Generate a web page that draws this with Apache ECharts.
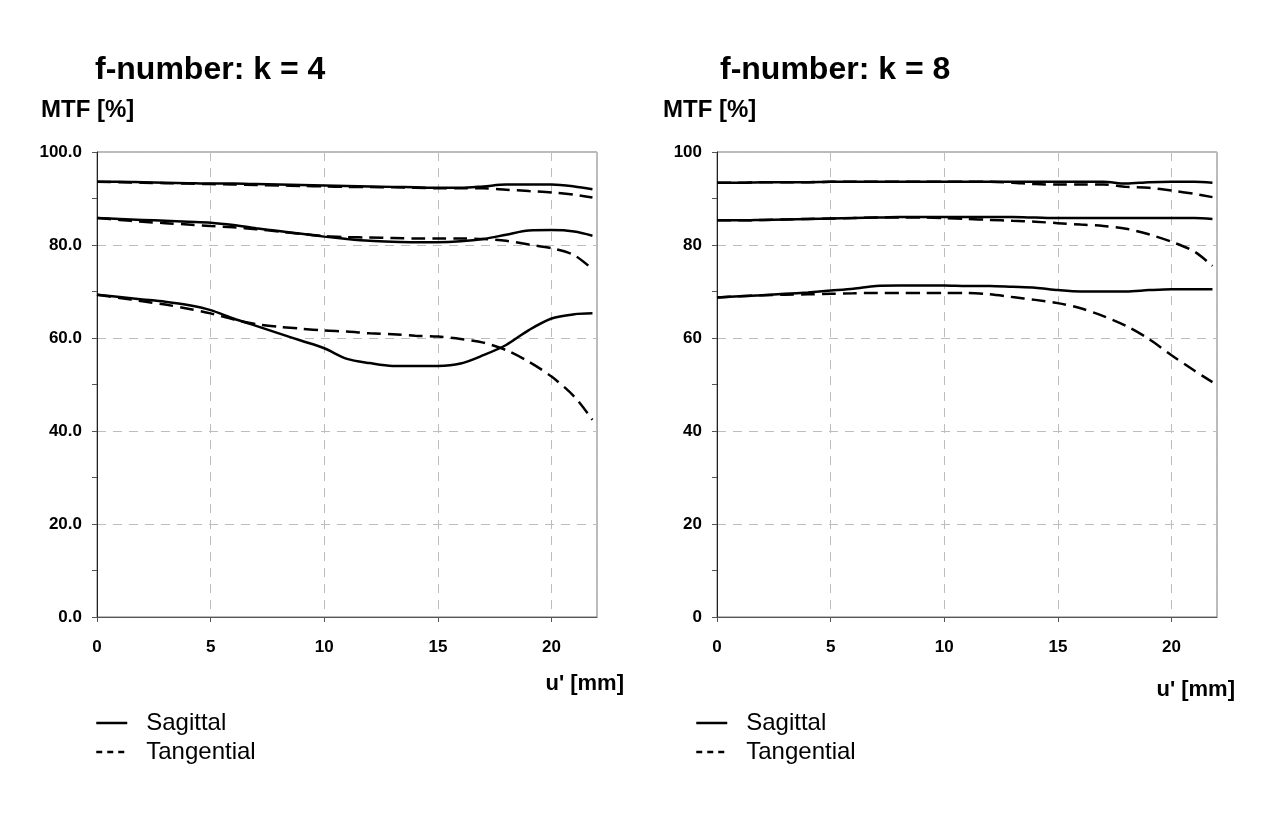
<!DOCTYPE html>
<html>
<head>
<meta charset="utf-8">
<script src="https://cdn.jsdelivr.net/npm/echarts@6/dist/echarts.min.js"></script>
<style>
html,body{margin:0;padding:0;background:#fff;}
#chart{width:1280px;height:821px;}
</style>
</head>
<body>
<div id="chart"></div>
<script>
// image height u' [mm]
const U = [0,1,2,3,4,5,6,7,8,9,10,11,12,13,14,15,16,17,18,19,20,21,21.8];

// f-number k = 4
const k4SagHigh = [93.6,93.6,93.5,93.4,93.3,93.2,93.2,93.1,93.0,92.9,92.8,92.7,92.6,92.5,92.4,92.3,92.3,92.6,93.0,93.0,93.0,92.6,92.0];
const k4TanHigh = [93.6,93.5,93.4,93.3,93.2,93.1,93.0,92.9,92.8,92.7,92.6,92.5,92.5,92.4,92.3,92.2,92.2,92.2,91.9,91.6,91.3,90.8,90.2];
const k4SagMid  = [85.8,85.6,85.4,85.2,85.0,84.8,84.3,83.6,83.0,82.4,81.8,81.3,80.9,80.7,80.6,80.6,80.8,81.3,82.2,83.1,83.2,82.9,82.0];
const k4TanMid  = [85.8,85.4,85.0,84.7,84.4,84.1,83.8,83.4,82.9,82.4,81.9,81.7,81.6,81.5,81.4,81.4,81.4,81.3,80.9,80.1,79.3,77.8,74.8];
const k4SagLow  = [69.3,68.8,68.3,67.8,67.1,66.0,64.2,62.6,61.0,59.4,57.8,55.5,54.6,54.0,54.0,54.0,54.5,56.3,58.5,61.7,64.2,65.1,65.3];
const k4TanLow  = [69.3,68.6,67.9,67.2,66.3,65.3,64.0,63.0,62.4,62.0,61.6,61.4,61.0,60.8,60.5,60.3,59.8,59.0,57.4,54.9,51.7,47.4,42.4];

// f-number k = 8
const k8SagHigh = [93.4,93.4,93.5,93.5,93.5,93.6,93.6,93.6,93.6,93.6,93.6,93.6,93.6,93.6,93.6,93.6,93.6,93.6,93.2,93.5,93.6,93.6,93.4];
const k8TanHigh = [93.4,93.4,93.5,93.5,93.5,93.6,93.6,93.6,93.6,93.6,93.6,93.6,93.6,93.4,93.1,93.0,93.0,93.0,92.5,92.3,91.7,91.0,90.3];
const k8SagMid  = [85.3,85.3,85.4,85.5,85.6,85.7,85.8,85.9,86.0,86.0,86.0,86.0,86.0,86.0,85.9,85.8,85.8,85.8,85.8,85.8,85.8,85.8,85.6];
const k8TanMid  = [85.3,85.3,85.4,85.5,85.6,85.7,85.8,85.9,85.9,85.9,85.8,85.6,85.4,85.2,85.0,84.7,84.4,84.1,83.5,82.3,80.7,78.6,75.5];
const k8SagLow  = [68.7,69.0,69.2,69.5,69.8,70.2,70.6,71.2,71.3,71.3,71.3,71.2,71.2,71.0,70.8,70.3,70.0,70.0,70.0,70.3,70.5,70.5,70.5];
const k8TanLow  = [68.7,69.0,69.2,69.3,69.4,69.5,69.6,69.7,69.7,69.7,69.7,69.7,69.4,68.8,68.2,67.5,66.4,64.7,62.6,59.8,56.3,53.0,50.5];

const titles = ['f-number: k = 4', 'f-number: k = 8'];
const yName = 'MTF [%]';
const xName = "u' [mm]";
const legendNames = ['Sagittal', 'Tangential'];

const FONT = '"Liberation Sans", Arial, Helvetica, sans-serif';
const pair = vals => U.map((u, i) => [u, vals[i]]);

function mkSeries(name, vals, idx, dashed) {
  return {
    name: name, type: 'line', xAxisIndex: idx, yAxisIndex: idx,
    data: pair(vals), symbol: 'none', smooth: 0.3, silent: true,
    lineStyle: { color: '#000', width: 2.5, type: dashed ? [14, 7] : 'solid' },
    itemStyle: { color: '#000' }
  };
}

const series = [
  mkSeries('Sagittal', k4SagHigh, 0, false),
  mkSeries('Tangential', k4TanHigh, 0, true),
  mkSeries('Sagittal', k4SagMid, 0, false),
  mkSeries('Tangential', k4TanMid, 0, true),
  mkSeries('Sagittal', k4SagLow, 0, false),
  mkSeries('Tangential', k4TanLow, 0, true),
  mkSeries('Sagittal', k8SagHigh, 1, false),
  mkSeries('Tangential', k8TanHigh, 1, true),
  mkSeries('Sagittal', k8SagMid, 1, false),
  mkSeries('Tangential', k8TanMid, 1, true),
  mkSeries('Sagittal', k8SagLow, 1, false),
  mkSeries('Tangential', k8TanLow, 1, true)
];

function mkX(idx) {
  return {
    type: 'value', gridIndex: idx, min: 0, max: 22, interval: 5,
    axisLine: { show: true, onZero: false, lineStyle: { color: '#555', width: 1 } },
    axisTick: { show: true, length: 5, lineStyle: { color: '#555' } },
    axisLabel: { showMaxLabel: false, margin: 22, color: '#000', fontFamily: FONT, fontWeight: 'bold', fontSize: 17 },
    splitLine: { show: true, lineStyle: { color: '#bdbdbd', type: [9, 7], width: 1 } }
  };
}
function mkY(idx, fmt) {
  return {
    type: 'value', gridIndex: idx, min: 0, max: 100, interval: 20,
    axisLine: { show: true, lineStyle: { color: '#222', width: 1 } },
    axisTick: { show: true, length: 5, lineStyle: { color: '#555' } },
    minorTick: { show: true, splitNumber: 2, length: 5, lineStyle: { color: '#555' } },
    axisLabel: { margin: 15, color: '#000', fontFamily: FONT, fontWeight: 'bold', fontSize: 17, formatter: fmt },
    splitLine: { show: true, lineStyle: { color: '#bdbdbd', type: [9, 7], width: 1 } }
  };
}

function mkLegend(left) {
  return {
    left: left, top: 706, orient: 'vertical', selectedMode: false,
    itemWidth: 31, itemHeight: 14, itemGap: 5,
    itemStyle: { opacity: 0, borderWidth: 0 },
    lineStyle: { width: 2.5, color: '#000' },
    data: [
      { name: legendNames[0] },
      { name: legendNames[1], lineStyle: { type: [6, 5], width: 2.5 } }
    ],
    formatter: n => '{g|}' + n,
    textStyle: { color: '#000', fontFamily: FONT, fontSize: 24, lineHeight: 23, rich: { g: { width: 14 } } }
  };
}

const tStyle = (size) => ({ color: '#000', fontFamily: FONT, fontWeight: 'bold', fontSize: size });

const option = {
  backgroundColor: '#fff',
  animation: false,
  title: [
    { text: titles[0], left: 95, top: 54, padding: 0, textStyle: tStyle(32) },
    { text: titles[1], left: 720, top: 54, padding: 0, textStyle: tStyle(32) },
    { text: yName, left: 41, top: 98, padding: 0, textStyle: tStyle(24) },
    { text: yName, left: 663, top: 98, padding: 0, textStyle: tStyle(24) },
    { text: xName, right: 656, top: 673, padding: 0, textStyle: tStyle(22) },
    { text: xName, right: 45, top: 679, padding: 0, textStyle: tStyle(22) }
  ],
  grid: [
    { left: 97, top: 152, width: 500, height: 465, show: true, borderColor: '#777', borderWidth: 1 },
    { left: 717, top: 152, width: 500, height: 465, show: true, borderColor: '#777', borderWidth: 1 }
  ],
  xAxis: [mkX(0), mkX(1)],
  yAxis: [mkY(0, v => v.toFixed(1)), mkY(1, v => String(v))],
  legend: [mkLegend(90), mkLegend(690)],
  series: series
};

const chart = echarts.init(document.getElementById('chart'), null, { renderer: 'canvas' });
chart.setOption(option);
</script>
</body>
</html>
